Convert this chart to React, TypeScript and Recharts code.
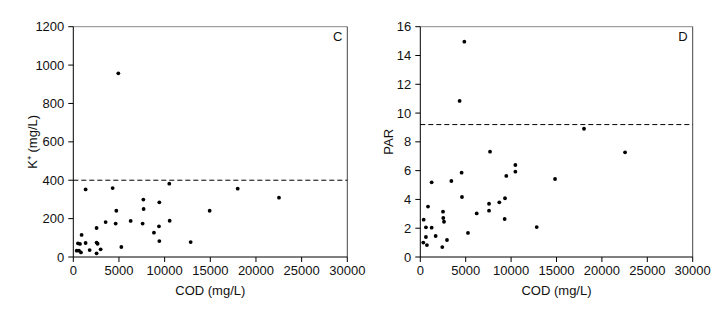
import React from 'react';
import {
  ScatterChart,
  Scatter,
  XAxis,
  YAxis,
  ReferenceLine,
  ReferenceDot,
  Label,
} from 'recharts';

// panel C: COD vs K+
const codC = [370, 510, 620, 730, 840, 910, 1350, 1350, 1790, 2550, 2550, 2550, 2660, 2990, 3540, 4310, 4640, 4710, 4930, 5260, 6280, 7590, 7670, 7700, 8830, 9380, 9420, 9420, 10510, 10550, 12850, 14930, 18000, 22520];
const kPlus = [33, 71, 33, 68, 24, 115, 73, 352, 36, 75, 19, 151, 69, 40, 182, 359, 174, 241, 957, 52, 188, 174, 299, 250, 127, 160, 285, 83, 382, 189, 78, 241, 356, 309];

// panel D: COD vs PAR
const codD = [330, 370, 620, 620, 730, 850, 1250, 1250, 1690, 2420, 2500, 2530, 2610, 2940, 3420, 4330, 4550, 4590, 4850, 5250, 6210, 7570, 7570, 7680, 8700, 9290, 9330, 9470, 10470, 10470, 12820, 14840, 18030, 22550];
const par = [1.0, 2.59, 2.06, 1.39, 0.83, 3.5, 5.19, 2.04, 1.46, 0.69, 3.15, 2.71, 2.45, 1.18, 5.28, 10.84, 5.86, 4.17, 14.96, 1.67, 3.03, 3.7, 3.22, 7.32, 3.8, 2.64, 4.08, 5.63, 6.39, 5.93, 2.08, 5.42, 8.91, 7.27];

const codTicks = [0, 5000, 10000, 15000, 20000, 25000, 30000];
const kTicks = [0, 200, 400, 600, 800, 1000, 1200];
const parTicks = [0, 2, 4, 6, 8, 10, 12, 14, 16];

const FONT = '"Liberation Sans", Arial, sans-serif';
const tickStyle = { fill: '#111', fontSize: 13, fontFamily: FONT };

const Dot = (props: any) => <circle cx={props.cx} cy={props.cy} r={1.9} fill="#000" />;

interface PanelProps {
  xs: number[];
  ys: number[];
  yTicks: number[];
  yMax: number;
  threshold: number;
  yLabel: string;
  letter: string;
  width: number;
  margin: { top: number; right: number; bottom: number; left: number };
  yAxisWidth: number;
  yLabelOffset: number;
}

function Panel(p: PanelProps) {
  const data = p.xs.map((x, i) => ({ x, y: p.ys[i] }));
  return (
    <ScatterChart width={p.width} height={316} margin={p.margin}>
      <XAxis
        type="number"
        dataKey="x"
        domain={[0, 30000]}
        ticks={codTicks}
        interval={0}
        tick={tickStyle}
        tickSize={5}
        tickMargin={4}
        stroke="#000"
        height={38}
      >
        <Label value="COD (mg/L)" position="insideBottom" offset={0} style={{ fill: '#111', fontSize: 13, fontFamily: FONT }} />
      </XAxis>
      <YAxis
        type="number"
        dataKey="y"
        domain={[0, p.yMax]}
        ticks={p.yTicks}
        interval={0}
        tick={tickStyle}
        tickSize={5}
        tickMargin={4}
        stroke="#000"
        width={p.yAxisWidth}
      >
        <Label
          value={p.yLabel}
          angle={-90}
          position="insideLeft"
          offset={p.yLabelOffset}
          style={{ textAnchor: 'middle', fill: '#111', fontSize: 13, fontFamily: FONT }}
        />
      </YAxis>
      <ReferenceLine y={p.yMax} stroke="#888" />
      <ReferenceLine x={30000} stroke="#444" />
      <ReferenceLine y={p.threshold} stroke="#000" strokeDasharray="5 3" />
      <ReferenceDot
        x={30000}
        y={p.yMax}
        r={0}
        label={{ value: p.letter, position: 'insideTopRight', offset: 5, style: { fill: '#111', fontSize: 13, fontFamily: FONT } }}
      />
      <Scatter data={data} shape={Dot} isAnimationActive={false} />
    </ScatterChart>
  );
}

export default function App() {
  return (
    <div style={{ position: 'absolute', left: 0, top: 0, width: 722, height: 316, background: '#fff' }}>
      <div style={{ position: 'absolute', left: 0, top: 0 }}>
        <Panel
          xs={codC}
          ys={kPlus}
          yTicks={kTicks}
          yMax={1200}
          threshold={400}
          yLabel="K⁺ (mg/L)"
          letter="C"
          width={380}
          margin={{ top: 26.7, right: 32.7, bottom: 21, left: 13.3 }}
          yAxisWidth={60}
          yLabelOffset={19}
        />
      </div>
      <div style={{ position: 'absolute', left: 361, top: 0 }}>
        <Panel
          xs={codD}
          ys={par}
          yTicks={parTicks}
          yMax={16}
          threshold={9.2}
          yLabel="PAR"
          letter="D"
          width={361}
          margin={{ top: 26.7, right: 29.3, bottom: 21, left: 9.3 }}
          yAxisWidth={50}
          yLabelOffset={18}
        />
      </div>
    </div>
  );
}
